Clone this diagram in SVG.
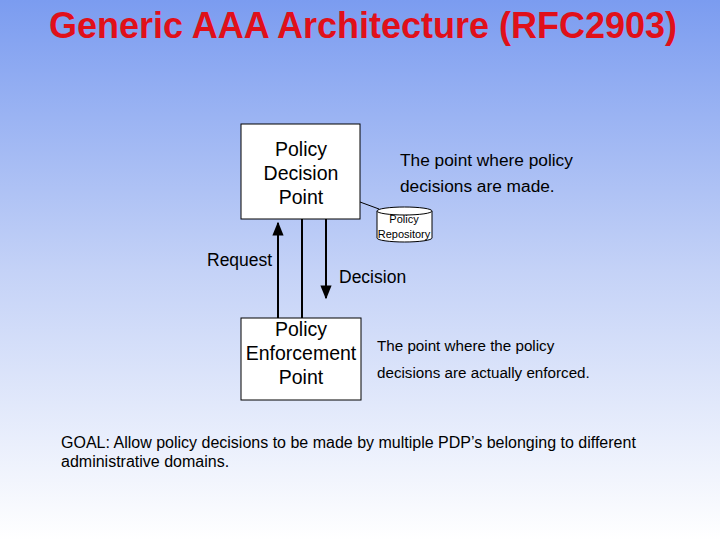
<svg xmlns="http://www.w3.org/2000/svg" width="720" height="540" viewBox="0 0 720 540">
<defs>
<linearGradient id="bg" x1="0" y1="0" x2="0" y2="1">
<stop offset="0" stop-color="#7b9cf0"/><stop offset="0.5" stop-color="#c4d2f7"/><stop offset="1" stop-color="#ffffff"/>
</linearGradient>
<marker id="ah" viewBox="0 0 10 10" refX="9" refY="5" markerWidth="7" markerHeight="7" orient="auto"><path d="M0,1 L10,5 L0,9 z" fill="#000"/></marker>
<style>
text{font-family:"Liberation Sans",Arial,sans-serif;fill:#000}
.box{fill:#fff;stroke:#000;stroke-width:1}
.c{text-anchor:middle;font-size:19.5px}
</style>
</defs>
<rect width="720" height="540" fill="url(#bg)"/>
<text x="363" y="38" text-anchor="middle" style="font-size:36px;font-weight:bold;fill:#e0101a">Generic AAA Architecture (RFC2903)</text>
<g id="pdp"><rect class="box" x="241" y="124" width="119" height="95"/>
<text class="c" x="301" y="156">Policy</text><text class="c" x="301" y="180">Decision</text><text class="c" x="301" y="204">Point</text></g>
<g id="pep"><rect class="box" x="241" y="318" width="120" height="82"/>
<text class="c" x="301" y="336">Policy</text><text class="c" x="301" y="360">Enforcement</text><text class="c" x="301" y="384">Point</text></g>
<g id="repo">
<path d="M377,211 v27 a27.5,4 0 0 0 55,0 v-27" class="box"/>
<ellipse cx="404.5" cy="211" rx="27.5" ry="4" class="box"/>
<text x="404" y="223" text-anchor="middle" font-size="11">Policy</text>
<text x="404" y="238" text-anchor="middle" font-size="11">Repository</text></g>
<g id="connectors" stroke="#000" stroke-width="2" fill="none">
<line x1="278" y1="318" x2="278" y2="223" marker-end="url(#ah)"/>
<line x1="302" y1="219" x2="302" y2="318"/>
<line x1="326" y1="219" x2="326" y2="298" marker-end="url(#ah)"/>
<line x1="360" y1="202" x2="379" y2="209" stroke-width="1"/>
</g>
<text x="400" y="166" font-size="17.3">The point where policy</text>
<text x="400" y="192" font-size="17.3">decisions are made.</text>
<text x="207" y="266" font-size="17.5">Request</text>
<text x="339" y="283" font-size="17.5">Decision</text>
<text x="377" y="351" font-size="15.2">The point where the policy</text>
<text x="377" y="378" font-size="15.2">decisions are actually enforced.</text>
<text x="61" y="448" font-size="16">GOAL: Allow policy decisions to be made by multiple PDP’s belonging to different</text>
<text x="61" y="467" font-size="16">administrative domains.</text>
</svg>
